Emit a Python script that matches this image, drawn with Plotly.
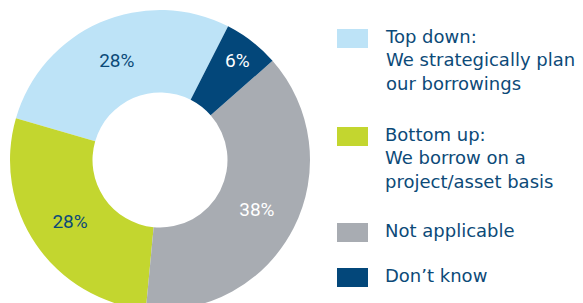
import plotly.graph_objects as go

# ---- data ----
categories = ["Top down", "Bottom up", "Not applicable", "Don't know"]
legend_labels = [
    "Top down:<br>We strategically plan<br>our borrowings",
    "Bottom up:<br>We borrow on a<br>project/asset basis",
    "Not applicable",
    "Don\u2019t know",
]
values = [28, 28, 38, 6]

# ---- styles ----
colors = ["#bde3f7", "#c3d62f", "#a8acb2", "#03477a"]
text_colors = ["#0c4a78", "#0c4a78", "#ffffff", "#ffffff"]
navy = "#0c4a78"
W, H = 583, 303
OFF = 8  # page body margin compensation

fig = go.Figure(
    go.Pie(
        labels=categories,
        values=values,
        hole=0.45,
        sort=False,
        direction="counterclockwise",
        rotation=-73.8,
        marker=dict(colors=colors, line=dict(width=0)),
        texttemplate="%{value}%",
        textposition="inside",
        insidetextorientation="horizontal",
        textfont=dict(family="Roboto", size=19, color=text_colors),
        domain=dict(x=[(10 - OFF) / W, (310 - OFF) / W],
                    y=[1 - (310 - OFF) / H, 1 - (10 - OFF) / H]),
        showlegend=False,
        hoverinfo="label+percent",
    )
)

# ---- custom legend (swatches + text) ----
sw_x0, sw_x1 = 337 - OFF, 368 - OFF
sw_tops = [t - OFF for t in (29, 127, 223, 268)]
sw_h = 19
shapes, annotations = [], []
for i, lab in enumerate(legend_labels):
    t = sw_tops[i]
    shapes.append(dict(
        type="rect", xref="paper", yref="paper",
        x0=sw_x0 / W, x1=sw_x1 / W,
        y0=1 - (t + sw_h) / H, y1=1 - t / H,
        fillcolor=colors[i], line=dict(width=0),
    ))
    annotations.append(dict(
        xref="paper", yref="paper",
        x=(383 - OFF) / W, y=1 - (t - 5) / H,
        xanchor="left", yanchor="top", align="left",
        text=lab, showarrow=False,
        font=dict(family="DejaVu Sans", size=18, color=navy),
    ))

fig.update_layout(
    width=W, height=H,
    margin=dict(l=0, r=0, t=0, b=0),
    paper_bgcolor="white",
    plot_bgcolor="white",
    shapes=shapes,
    annotations=annotations,
    uniformtext=dict(minsize=19, mode="show"),
)

fig.write_html("out.html")
